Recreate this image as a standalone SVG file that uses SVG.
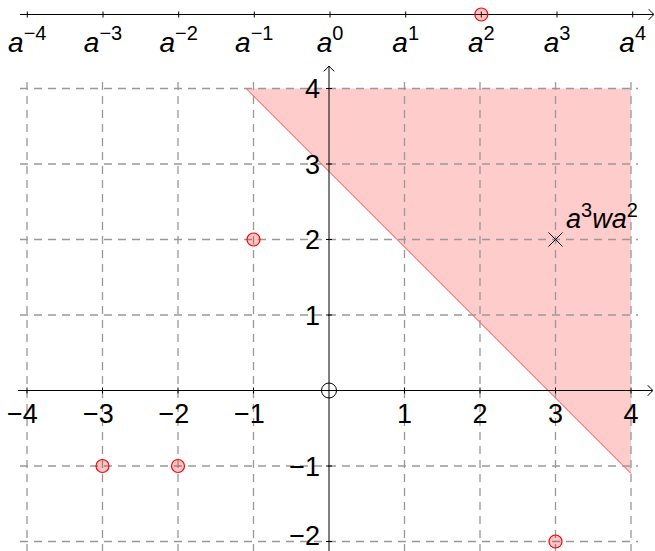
<svg xmlns="http://www.w3.org/2000/svg" width="655" height="551" viewBox="0 0 655 551">
<style>
.grid{stroke:#999;stroke-width:1.3;stroke-dasharray:8 6;fill:none}
.axis{stroke:#000;stroke-width:1;fill:none}
.tick{stroke:#000;stroke-width:1}
.arr{stroke:#000;stroke-width:1;fill:none;stroke-linecap:round}
.num{font-family:"Liberation Sans",Arial,sans-serif;font-size:27px;fill:#000}
.nx{text-anchor:middle}
.ny{text-anchor:end}
.al{font-family:"Liberation Sans",Arial,sans-serif;font-size:28px;fill:#000;text-anchor:middle}
.it{font-style:italic}
.sup{font-size:20px}
.pt{fill:#ff0000;fill-opacity:0.22;stroke:#ff0000;stroke-width:1.2}
</style>
<rect width="655" height="551" fill="#fff"/>
<g id="region">
<polygon points="246,88.5 631,88.5 631,473.5" fill="#ffcccc"/>
<line x1="246" y1="88.5" x2="631" y2="473.5" stroke="#ff0000" stroke-width="0.7"/>
</g>
<g id="grid" class="grid">
<path d="M27,82V551M102.5,82V551M178,82V551M253.5,82V551M404.5,82V551M480,82V551M555.5,82V551M631,82V551"/>
<path d="M20,88.5H638M20,164H638M20,239.5H638M20,315H638M20,466H638M20,541.5H638"/>
</g>
<g id="top-axis">
<line class="axis" x1="20" y1="14.5" x2="653" y2="14.5"/>
<path class="arr" d="M649,9.5Q652,13 654,14.5Q652,16 649,19.5"/>
<path class="tick" d="M27.3,11.5V17.5M103,11.5V17.5M178.7,11.5V17.5M254.3,11.5V17.5M330,11.5V17.5M405.7,11.5V17.5M481.3,11.5V17.5M557,11.5V17.5M632.7,11.5V17.5"/>
<text class="al" x="27.3" y="52"><tspan class="it">a</tspan><tspan class="sup" dy="-12">−4</tspan></text>
<text class="al" x="103" y="52"><tspan class="it">a</tspan><tspan class="sup" dy="-12">−3</tspan></text>
<text class="al" x="178.7" y="52"><tspan class="it">a</tspan><tspan class="sup" dy="-12">−2</tspan></text>
<text class="al" x="254.3" y="52"><tspan class="it">a</tspan><tspan class="sup" dy="-12">−1</tspan></text>
<text class="al" x="330" y="52"><tspan class="it">a</tspan><tspan class="sup" dy="-12">0</tspan></text>
<text class="al" x="405.7" y="52"><tspan class="it">a</tspan><tspan class="sup" dy="-12">1</tspan></text>
<text class="al" x="481.3" y="52"><tspan class="it">a</tspan><tspan class="sup" dy="-12">2</tspan></text>
<text class="al" x="557" y="52"><tspan class="it">a</tspan><tspan class="sup" dy="-12">3</tspan></text>
<text class="al" x="632.7" y="52"><tspan class="it">a</tspan><tspan class="sup" dy="-12">4</tspan></text>
</g>
<g id="axes">
<line class="axis" x1="18" y1="390.5" x2="652" y2="390.5"/>
<path class="arr" d="M648,385.5Q651,389 653,390.5Q651,392 648,395.5"/>
<line class="axis" x1="329" y1="551" x2="329" y2="67"/>
<path class="arr" d="M324,71Q327.5,68 329,66Q330.5,68 334,71"/>
<path class="tick" d="M27,387.5V393.5M102.5,387.5V393.5M178,387.5V393.5M253.5,387.5V393.5M404.5,387.5V393.5M480,387.5V393.5M555.5,387.5V393.5M631,387.5V393.5"/>
<path class="tick" d="M326,88.5H332M326,164H332M326,239.5H332M326,315H332M326,466H332M326,541.5H332"/>
<text class="num nx" x="22.5" y="423">−4</text>
<text class="num nx" x="98.5" y="423">−3</text>
<text class="num nx" x="174" y="423">−2</text>
<text class="num nx" x="249.5" y="423">−1</text>
<text class="num nx" x="404.5" y="423">1</text>
<text class="num nx" x="480" y="423">2</text>
<text class="num nx" x="555.5" y="423">3</text>
<text class="num nx" x="631" y="423">4</text>
<text class="num ny" x="320" y="98">4</text>
<text class="num ny" x="320" y="173.5">3</text>
<text class="num ny" x="320" y="249">2</text>
<text class="num ny" x="320" y="324.5">1</text>
<text class="num ny" x="320" y="475.5">−1</text>
<text class="num ny" x="320" y="545">−2</text>
</g>
<g id="origin">
<circle cx="329" cy="390.5" r="7.5" fill="none" stroke="#000" stroke-width="1"/>
</g>
<g id="points">
<circle class="pt" cx="481.3" cy="14.5" r="6.5"/>
<circle class="pt" cx="253.5" cy="239.5" r="6.5"/>
<circle class="pt" cx="102.5" cy="466" r="6.5"/>
<circle class="pt" cx="178" cy="466" r="6.5"/>
<circle class="pt" cx="555.5" cy="541.5" r="6.5"/>
</g>
<g id="mark">
<path d="M548.5,232.5L562.5,246.5M548.5,246.5L562.5,232.5" stroke="#000" stroke-width="1"/>
<text class="num" x="566" y="228"><tspan class="it">a</tspan><tspan class="sup" dy="-11">3</tspan><tspan class="it" dy="11">wa</tspan><tspan class="sup" dy="-11">2</tspan></text>
</g>
</svg>
